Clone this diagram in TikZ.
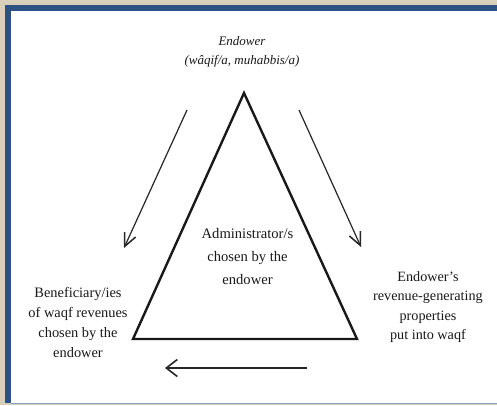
\documentclass[tikz,border=0pt]{standalone}
\usepackage{fontspec}
\setmainfont{Liberation Serif}
\usetikzlibrary{arrows.meta}
\definecolor{paper}{HTML}{D9D0BB}
\definecolor{frameblue}{HTML}{2B5283}
\definecolor{lineblue}{HTML}{86A2C6}
\begin{document}
\begin{tikzpicture}[x=1pt,y=-1pt,
  lbl/.style={align=center,inner sep=0pt,text=black!90},
  tri/.style={line width=2.4pt,line join=miter,draw=black!90},
  flow/.style={line width=1.2pt,draw=black!85,-{Straight Barb[length=13pt,width=12pt,line width=1.5pt]}},
  backflow/.style={line width=1.5pt,draw=black!85,-{Straight Barb[length=11pt,width=17pt,line width=1.6pt]}}]
\useasboundingbox (0,0) rectangle (497,405);
\fill[paper] (0,0) rectangle (497,405);
\fill[white] (11,11) rectangle (497,403);
\fill[frameblue] (5,5) rectangle (497,11);
\fill[frameblue] (5,5) rectangle (11,403);
\fill[lineblue] (11,402.5) rectangle (497,404);
% triangle
\coordinate (apex) at (244,93);
\coordinate (bl) at (133,339);
\coordinate (br) at (357,339);
\draw[tri] (apex) -- (bl) -- (br) -- cycle;
% labels
\node[lbl,font=\fontsize{13}{19}\itshape] (endower) at (242,52) {Endower\\(wâqif/a, muhabbis/a)};
\node[lbl,font=\fontsize{14.6}{23}\selectfont] (admin) at (247.5,256) {Administrator/s\\chosen by the\\endower};
\node[lbl,font=\fontsize{14.4}{20}\selectfont] (benef) at (78,322) {Beneficiary/ies\\of waqf revenues\\chosen by the\\endower};
\node[lbl,font=\fontsize{14.2}{19.5}\selectfont] (props) at (428,307) {Endower's\\revenue-generating\\properties\\put into waqf};
% arrows
\coordinate (l1) at (187,110);
\coordinate (l2) at (124,248);
\coordinate (r1) at (299,110);
\coordinate (r2) at (361,247);
\coordinate (b1) at (307,368);
\coordinate (b2) at (165,368);
\draw[flow] (l1) -- (l2);
\draw[flow] (r1) -- (r2);
\draw[backflow] (b1) -- (b2);
\end{tikzpicture}
\end{document}
